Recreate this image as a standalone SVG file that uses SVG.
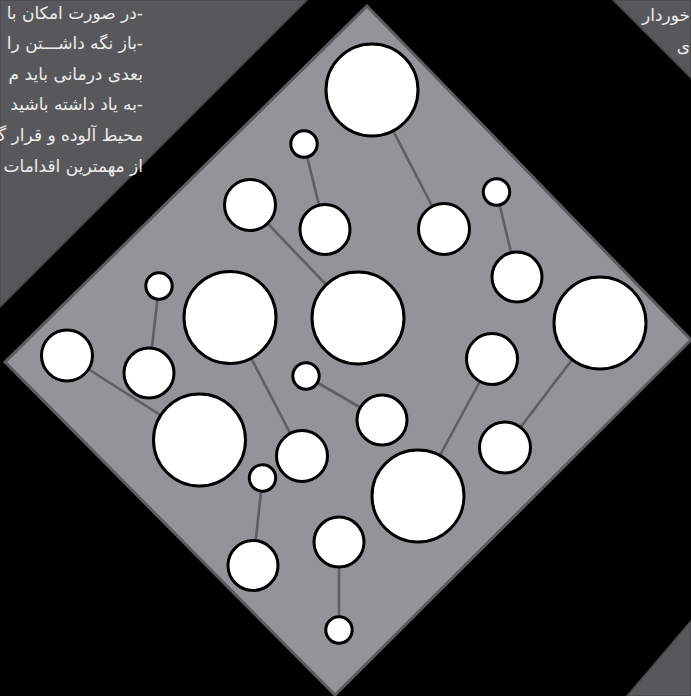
<svg xmlns="http://www.w3.org/2000/svg" width="691" height="696" viewBox="0 0 691 696">
<style>
.corner{fill:#58585a;stroke:#4a4a4c;stroke-width:1.5}
.board{fill:#939498;stroke:#5c5c5f;stroke-width:3;stroke-linejoin:miter}
.node{fill:#ffffff;stroke:#000000;stroke-width:3}
.edge{stroke:#5f5f62;stroke-width:2.6;fill:none}
.txt{font-family:"DejaVu Sans",sans-serif;font-size:17px;fill:#ececec;direction:rtl}
</style>
<rect x="0" y="0" width="691" height="696" fill="#000000"/>
<polygon class="corner" points="0,0 307,0 0,307"/>
<polygon class="corner" points="613,0 691,0 691,78"/>
<polygon class="corner" points="691,621 691,696 627,696"/>
<polygon class="board" points="367,6 691,340 335,695 5,362"/>
<g id="text-left" class="txt">
<text x="143" y="19" text-anchor="start">-در صورت امکان با</text>
<text x="143" y="49" text-anchor="start">-باز نگه داشـــتن را</text>
<text x="143" y="80" text-anchor="start">بعدی درمانی باید م</text>
<text x="143" y="110" text-anchor="start">-به یاد داشته باشید</text>
<text x="143" y="141" text-anchor="start">محیط آلوده و قرار گ</text>
<text x="143" y="172" text-anchor="start">از مهمترین اقدامات</text>
</g>
<g id="text-right" class="txt">
<text x="690" y="21" text-anchor="start">خوردار</text>
<text x="690" y="52" text-anchor="start">ی</text>
</g>
<g id="connectors">
<line class="edge" x1="372" y1="90" x2="444" y2="229"/>
<line class="edge" x1="304" y1="144" x2="325" y2="229.5"/>
<line class="edge" x1="250" y1="205" x2="358" y2="318"/>
<line class="edge" x1="496.5" y1="192" x2="517" y2="277"/>
<line class="edge" x1="159" y1="286" x2="149" y2="373"/>
<line class="edge" x1="67" y1="355.5" x2="199.5" y2="440"/>
<line class="edge" x1="230" y1="317.5" x2="302" y2="456"/>
<line class="edge" x1="306" y1="376" x2="382" y2="420"/>
<line class="edge" x1="492" y1="359" x2="418" y2="496"/>
<line class="edge" x1="600" y1="323" x2="505" y2="447.5"/>
<line class="edge" x1="262.5" y1="478" x2="253" y2="565.5"/>
<line class="edge" x1="339" y1="542" x2="339" y2="630"/>
</g>
<g id="n1"><circle class="node" cx="372" cy="90" r="46"/></g>
<g id="n2"><circle class="node" cx="304" cy="144" r="13.2"/></g>
<g id="n3"><circle class="node" cx="250" cy="205" r="25.5"/></g>
<g id="n4"><circle class="node" cx="325" cy="229.5" r="25"/></g>
<g id="n5"><circle class="node" cx="444" cy="229" r="25.5"/></g>
<g id="n6"><circle class="node" cx="496.5" cy="192" r="13.2"/></g>
<g id="n7"><circle class="node" cx="517" cy="277" r="25"/></g>
<g id="n8"><circle class="node" cx="600" cy="323" r="46"/></g>
<g id="n9"><circle class="node" cx="230" cy="317.5" r="46"/></g>
<g id="n10"><circle class="node" cx="358" cy="318" r="46"/></g>
<g id="n11"><circle class="node" cx="159" cy="286" r="13.2"/></g>
<g id="n12"><circle class="node" cx="149" cy="373" r="25"/></g>
<g id="n13"><circle class="node" cx="67" cy="355.5" r="25.5"/></g>
<g id="n14"><circle class="node" cx="492" cy="359" r="25.5"/></g>
<g id="n15"><circle class="node" cx="306" cy="376" r="13.2"/></g>
<g id="n16"><circle class="node" cx="382" cy="420" r="25"/></g>
<g id="n17"><circle class="node" cx="199.5" cy="440" r="46"/></g>
<g id="n18"><circle class="node" cx="302" cy="456" r="25.5"/></g>
<g id="n19"><circle class="node" cx="505" cy="447.5" r="25.5"/></g>
<g id="n20"><circle class="node" cx="418" cy="496" r="46"/></g>
<g id="n21"><circle class="node" cx="262.5" cy="478" r="13.2"/></g>
<g id="n22"><circle class="node" cx="339" cy="542" r="25"/></g>
<g id="n23"><circle class="node" cx="253" cy="565.5" r="25"/></g>
<g id="n24"><circle class="node" cx="339" cy="630" r="13.2"/></g>
</svg>
